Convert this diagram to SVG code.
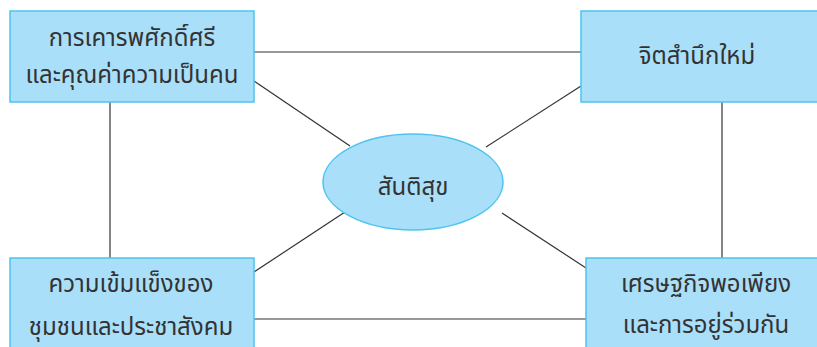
<svg xmlns="http://www.w3.org/2000/svg" width="817" height="347" viewBox="0 0 817 347">
<style>
.box{fill:#aadff9;stroke:#4cc4ef;stroke-width:1.5}
.ln{stroke:#333;stroke-width:1.2;fill:none}
text{font-family:"Noto Sans Thai","Noto Sans","DejaVu Sans",sans-serif;font-size:24px;fill:#333;text-anchor:middle}
</style>
<rect width="817" height="347" fill="#fff"/>
<g id="connectors">
<line class="ln" x1="254" y1="52" x2="581" y2="52"/>
<line class="ln" x1="254" y1="319" x2="586" y2="319"/>
<line class="ln" x1="110" y1="102" x2="110" y2="258"/>
<line class="ln" x1="722" y1="102" x2="722" y2="258"/>
<line class="ln" x1="254" y1="81" x2="350" y2="146"/>
<line class="ln" x1="581" y1="86" x2="486" y2="147"/>
<line class="ln" x1="254" y1="272" x2="345" y2="212"/>
<line class="ln" x1="586" y1="268" x2="502" y2="213"/>
</g>
<g id="n1">
<rect class="box" x="10" y="11" width="244" height="91"/>
<text x="132" y="46">การเคารพศักดิ์ศรี</text>
<text x="132" y="83">และคุณค่าความเป็นคน</text>
</g>
<g id="n2">
<rect class="box" x="581" y="11" width="240" height="91"/>
<text x="697" y="64">จิตสำนึกใหม่</text>
</g>
<g id="n3">
<rect class="box" x="10" y="258" width="244" height="95"/>
<text x="131" y="292">ความเข้มแข็งของ</text>
<text x="131" y="335">ชุมชนและประชาสังคม</text>
</g>
<g id="n4">
<rect class="box" x="586" y="258" width="240" height="95"/>
<text x="706" y="292">เศรษฐกิจพอเพียง</text>
<text x="706" y="333">และการอยู่ร่วมกัน</text>
</g>
<g id="center">
<ellipse class="box" cx="413" cy="182" rx="90" ry="48"/>
<text x="413" y="195">สันติสุข</text>
</g>
</svg>
